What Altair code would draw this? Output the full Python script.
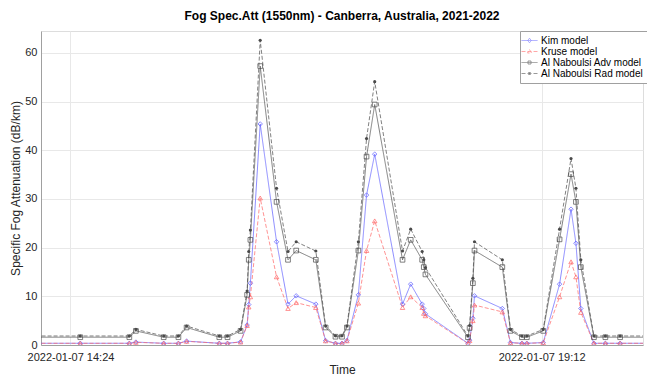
import altair as alt
import pandas as pd
from datetime import datetime

times = [
    "2022-01-07T13:59:00", "2022-01-07T14:30:00", "2022-01-07T15:00:00", "2022-01-07T15:04:00",
    "2022-01-07T15:21:00", "2022-01-07T15:30:00", "2022-01-07T15:35:00", "2022-01-07T15:55:00",
    "2022-01-07T16:00:00", "2022-01-07T16:08:00", "2022-01-07T16:12:00", "2022-01-07T16:13:00",
    "2022-01-07T16:14:00", "2022-01-07T16:20:00", "2022-01-07T16:30:00", "2022-01-07T16:37:00",
    "2022-01-07T16:42:00", "2022-01-07T16:54:00", "2022-01-07T17:00:00", "2022-01-07T17:06:00",
    "2022-01-07T17:10:00", "2022-01-07T17:13:00", "2022-01-07T17:20:00", "2022-01-07T17:25:00",
    "2022-01-07T17:30:00", "2022-01-07T17:47:00", "2022-01-07T17:52:00", "2022-01-07T17:59:00",
    "2022-01-07T18:00:00", "2022-01-07T18:01:00", "2022-01-07T18:27:00", "2022-01-07T18:28:00",
    "2022-01-07T18:30:00", "2022-01-07T18:31:00", "2022-01-07T18:48:00", "2022-01-07T18:53:00",
    "2022-01-07T19:00:00", "2022-01-07T19:03:00", "2022-01-07T19:13:00", "2022-01-07T19:23:00",
    "2022-01-07T19:30:00", "2022-01-07T19:33:00", "2022-01-07T19:36:00", "2022-01-07T19:44:00",
    "2022-01-07T19:51:00", "2022-01-07T20:00:00", "2022-01-07T20:24:00",
]
kim = [0.35, 0.35, 0.35, 0.6, 0.35, 0.35, 0.8, 0.35, 0.35, 0.65, 4.1, 8.3, 12.7, 45.4, 21.2, 8.4,
       10.1, 8.4, 0.9, 0.35, 0.35, 0.9, 10.3, 30.8, 39.2, 8.4, 12.5, 8.4, 7.5, 6.4, 0.35, 1.0,
       5.5, 10.1, 7.5, 0.5, 0.35, 0.35, 0.5, 12.5, 27.9, 20.9, 7.5, 0.35, 0.35, 0.35, 0.35]
kruse = [0.35, 0.35, 0.35, 0.55, 0.35, 0.35, 0.75, 0.35, 0.35, 0.6, 4.0, 7.8, 9.9, 30.2, 14.0, 7.5,
         8.7, 7.7, 0.85, 0.35, 0.35, 0.85, 8.6, 19.4, 25.5, 7.7, 9.9, 7.7, 6.5, 6.0, 0.3, 0.9,
         5.0, 8.2, 6.8, 0.45, 0.35, 0.35, 0.45, 9.9, 17.1, 14.0, 6.7, 0.35, 0.35, 0.35, 0.35]
adv = [1.6, 1.6, 1.6, 2.9, 1.6, 1.6, 3.6, 1.6, 1.6, 2.9, 10.3, 17.5, 21.6, 57.3, 29.4, 17.5,
       19.4, 17.5, 3.6, 1.7, 1.7, 3.6, 19.4, 38.7, 49.4, 17.5, 21.6, 17.5, 16.0, 14.5, 1.6, 3.5,
       12.7, 19.4, 16.0, 2.9, 1.6, 1.6, 2.9, 21.7, 35.1, 29.4, 16.0, 1.6, 1.6, 1.6, 1.6]
rad = [1.85, 1.85, 1.85, 3.2, 1.85, 1.85, 3.9, 1.85, 1.85, 3.2, 11.1, 19.2, 23.6, 62.6, 32.2, 19.2,
       21.2, 19.3, 3.9, 1.9, 1.9, 3.9, 21.2, 42.4, 54.1, 19.3, 23.8, 19.2, 17.5, 15.9, 1.85, 4.0,
       13.7, 21.2, 17.5, 3.2, 1.85, 1.85, 3.2, 23.8, 38.3, 32.2, 17.5, 1.85, 1.85, 1.85, 1.85]

models = ["Kim model", "Kruse model", "Al Naboulsi Adv model", "Al Naboulsi Rad model"]
colors = ["#5a5aff", "#ff6464", "#4a4a4a", "#4a4a4a"]
marker_shapes = ["diamond", "triangle-up", "square", "circle"]
marker_sizes = [20, 20, 22, 10]
marker_filled = [False, False, False, True]
dashes = [[1, 0], [4, 2], [1, 0], [4, 2]]
legend_shapes = [
    "M-1.6,0H1.6M0,-0.45L0.35,0L0,0.45L-0.35,0Z",
    "M-1.6,0H1.6M0,-0.4L0.4,0.3L-0.4,0.3Z",
    "M-1.6,0H1.6M-0.3,-0.3H0.3V0.3H-0.3Z",
    "M-1.6,0H1.6M-0.25,-0.25L0.25,0.25M-0.25,0.25L0.25,-0.25M0,-0.3V0.3",
]

tick_labels = ["2022-01-07 14:24", "2022-01-07 19:12"]
x_range = ["2022-01-07 14:06", "2022-01-07 20:14"]
y_ticks = [0, 10, 20, 30, 40, 50, 60]
y_max = 64.5

title = "Fog Spec.Att (1550nm) - Canberra, Australia, 2021-2022"
x_title = "Time"
y_title = "Specific Fog Attenuation (dB/km)"

FONT = "Liberation Sans"


def to_dt(s):
    d = datetime.strptime(s, "%Y-%m-%d %H:%M")
    return alt.DateTime(year=d.year, month=d.month, date=d.day, hours=d.hour, minutes=d.minute)


rows = []
for name, vals in zip(models, [kim, kruse, adv, rad]):
    for t, v in zip(times, vals):
        rows.append({"time": t, "value": v, "model": name})
df = pd.DataFrame(rows)

x_enc = alt.X(
    "time:T",
    title=x_title,
    scale=alt.Scale(domain=[to_dt(s) for s in x_range]),
    axis=alt.Axis(
        values=[to_dt(s) for s in tick_labels],
        format="%Y-%m-%d %H:%M",
        labelFontSize=11, labelColor="#262626", labelFont=FONT,
        titleFontSize=12, titleFont=FONT, titleFontWeight="normal", titleColor="#262626",
        titlePadding=2, labelPadding=6, ticks=False,
        domainColor="#a0a0a0", gridColor="#e8e8e8", labelFlush=False,
    ),
)
y_enc = alt.Y(
    "value:Q",
    title=y_title,
    scale=alt.Scale(domain=[0, y_max], nice=False),
    axis=alt.Axis(
        values=y_ticks,
        labelFontSize=11, labelColor="#262626", labelFont=FONT,
        titleFontSize=12, titleFont=FONT, titleFontWeight="normal", titleColor="#262626",
        titlePadding=2, labelPadding=4, ticks=False,
        domainColor="#a0a0a0", gridColor="#e8e8e8",
    ),
)

legend = alt.Legend(
    orient="none", legendX=479, legendY=0, title=None,
    padding=4, strokeColor="#a0a0a0", fillColor="#ffffff",
    labelFont=FONT, labelFontSize=10, labelColor="#000000", rowPadding=0,
    symbolSize=100, symbolStrokeWidth=0.8, labelOffset=6,
)

color_enc = alt.Color("model:N", scale=alt.Scale(domain=models, range=colors), sort=models,
                      title=None, legend=legend)
shape_enc = alt.Shape("model:N", scale=alt.Scale(domain=models, range=legend_shapes), sort=models,
                      title=None, legend=legend)
dash_enc = alt.StrokeDash("model:N", scale=alt.Scale(domain=models, range=dashes), sort=models,
                          title=None, legend=legend)

base = alt.Chart(df)

lines = base.mark_line(strokeWidth=0.7, clip=True).encode(
    x=x_enc, y=y_enc, color=color_enc, strokeDash=dash_enc,
)

# empty layer carrying the legend symbols (line + marker)
legend_layer = base.transform_filter("false").mark_point(filled=False, strokeWidth=0.8).encode(
    x=x_enc, y=y_enc, color=color_enc, shape=shape_enc, strokeDash=dash_enc,
)

point_layers = []
for i, name in enumerate(models):
    point_layers.append(
        base.transform_filter(alt.FieldEqualPredicate(field="model", equal=name))
        .mark_point(size=marker_sizes[i], strokeWidth=0.7, clip=True, filled=marker_filled[i],
                    shape=marker_shapes[i], color=colors[i], opacity=1)
        .encode(x=x_enc, y=y_enc)
    )

chart = alt.layer(lines, *point_layers, legend_layer).properties(
    width=602,
    height=314,
    title=alt.TitleParams(title, fontSize=12, font=FONT, fontWeight="bold", color="#000000",
                          anchor="middle", offset=8),
    autosize=alt.AutoSizeParams(type="none"),
    padding={"left": 41, "top": 31, "right": 4, "bottom": 30},
).configure_view(
    stroke="#a0a0a0", strokeWidth=1,
).configure(background="#ffffff")

chart.save("out.html", embed_options={"renderer": "svg", "actions": False})
